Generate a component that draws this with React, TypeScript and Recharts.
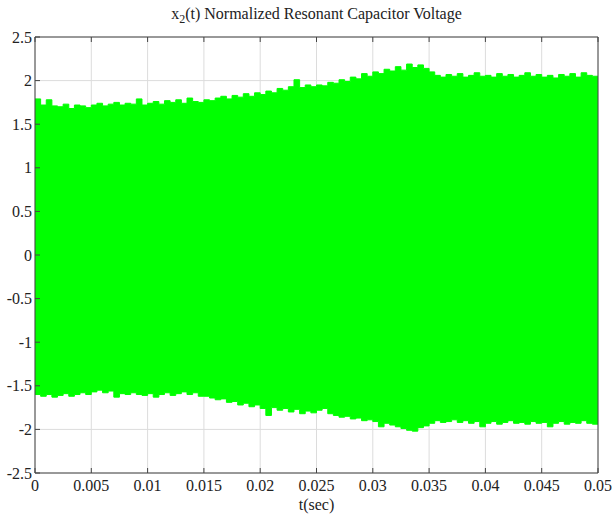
import React from "react";
import { AreaChart, Area, XAxis, YAxis, CartesianGrid } from "recharts";

// sample spacing of the envelope readings (sec)
const T_STEP = 0.0005;

// upper envelope of the capacitor voltage, one reading per T_STEP
const upperEnv = [
  1.79, 1.72, 1.78, 1.71, 1.70, 1.73, 1.68, 1.72, 1.71, 1.69,
  1.72, 1.74, 1.71, 1.73, 1.75, 1.72, 1.74, 1.73, 1.79, 1.72,
  1.74, 1.76, 1.73, 1.77, 1.75, 1.78, 1.74, 1.80, 1.76, 1.75,
  1.78, 1.77, 1.80, 1.82, 1.79, 1.83, 1.81, 1.85, 1.82, 1.86,
  1.84, 1.88, 1.86, 1.91, 1.89, 1.93, 2.01, 1.92, 1.95, 1.93,
  1.95, 1.94, 1.98, 1.97, 2.01, 1.99, 2.04, 2.02, 2.08, 2.05,
  2.10, 2.08, 2.13, 2.11, 2.16, 2.12, 2.19, 2.15, 2.18, 2.14,
  2.10, 2.06, 2.04, 2.07, 2.05, 2.08, 2.04, 2.06, 2.09, 2.05,
  2.06, 2.04, 2.08, 2.05, 2.07, 2.04, 2.06, 2.09, 2.05, 2.07,
  2.04, 2.06, 2.03, 2.07, 2.05, 2.08, 2.04, 2.09, 2.06, 2.05, 2.05,
];

// lower envelope
const lowerEnv = [
  -1.60, -1.62, -1.60, -1.63, -1.61, -1.59, -1.62, -1.60, -1.58, -1.60,
  -1.57, -1.55, -1.58, -1.56, -1.63, -1.59, -1.60, -1.58, -1.60, -1.61,
  -1.59, -1.63, -1.60, -1.58, -1.61, -1.59, -1.57, -1.60, -1.58, -1.62,
  -1.62, -1.64, -1.66, -1.65, -1.69, -1.68, -1.72, -1.70, -1.74, -1.72,
  -1.76, -1.84, -1.75, -1.78, -1.76, -1.80, -1.77, -1.82, -1.79, -1.81,
  -1.78, -1.76, -1.82, -1.84, -1.86, -1.85, -1.88, -1.87, -1.90, -1.89,
  -1.91, -1.97, -1.93, -1.95, -1.97, -1.99, -2.01, -2.02, -1.98, -1.96,
  -1.93, -1.90, -1.92, -1.91, -1.89, -1.92, -1.90, -1.93, -1.91, -1.97,
  -1.93, -1.91, -1.94, -1.92, -1.90, -1.93, -1.92, -1.94, -1.91, -1.93,
  -1.92, -1.97, -1.93, -1.91, -1.94, -1.92, -1.93, -1.90, -1.93, -1.94, -1.94,
];

const xTicks = [0, 0.005, 0.01, 0.015, 0.02, 0.025, 0.03, 0.035, 0.04, 0.045, 0.05];
const yTicks = [-2.5, -2, -1.5, -1, -0.5, 0, 0.5, 1, 1.5, 2, 2.5];

const FONT = "Liberation Serif, DejaVu Serif, serif";
const tickStyle = { fill: "#222", fontSize: 16, fontFamily: FONT };
const noLabel = () => <g />;

export default function App() {
  const data = upperEnv.map((hi, i) => ({
    t: +(i * T_STEP).toFixed(4),
    range: [lowerEnv[i], hi],
  }));

  return (
    <div style={{ position: "absolute", left: 0, top: 0, width: 613, height: 518, background: "#fff", fontFamily: FONT }}>
      <div
        style={{
          position: "absolute", left: 35, width: 563, top: 5, textAlign: "center",
          fontSize: 16, color: "#222", lineHeight: "18px",
        }}
      >
        x<sub style={{ fontSize: 12, lineHeight: 0 }}>2</sub>(t) Normalized Resonant Capacitor Voltage
      </div>

      <AreaChart width={613} height={518} data={data} margin={{ top: 7, right: 5, bottom: 0, left: 0 }}>
        <CartesianGrid stroke="#dcdcdc" horizontalValues={yTicks} verticalValues={xTicks} />
        <XAxis
          dataKey="t" type="number" domain={[0, 0.05]} ticks={xTicks} interval={0}
          height={45} tickSize={-5} tickMargin={12} stroke="#444" tick={tickStyle}
        />
        <XAxis
          xAxisId="top" orientation="top" dataKey="t" type="number" domain={[0, 0.05]}
          ticks={xTicks} interval={0} height={30} tickSize={-5} stroke="#444" tick={noLabel}
        />
        <YAxis
          type="number" domain={[-2.5, 2.5]} ticks={yTicks} interval={0}
          width={35} tickSize={-5} tickMargin={8} stroke="#444" tick={tickStyle}
        />
        <YAxis
          yAxisId="right" orientation="right" type="number" domain={[-2.5, 2.5]}
          ticks={yTicks} interval={0} width={10} tickSize={-5} stroke="#444" tick={noLabel}
        />
        <Area
          type="stepAfter" dataKey="range" stroke="#00ff00" strokeWidth={1}
          fill="#00ff00" fillOpacity={1} isAnimationActive={false}
        />
      </AreaChart>

      <div
        style={{
          position: "absolute", left: 35, width: 563, top: 496, textAlign: "center",
          fontSize: 16, color: "#222", lineHeight: "18px",
        }}
      >
        t(sec)
      </div>
    </div>
  );
}
